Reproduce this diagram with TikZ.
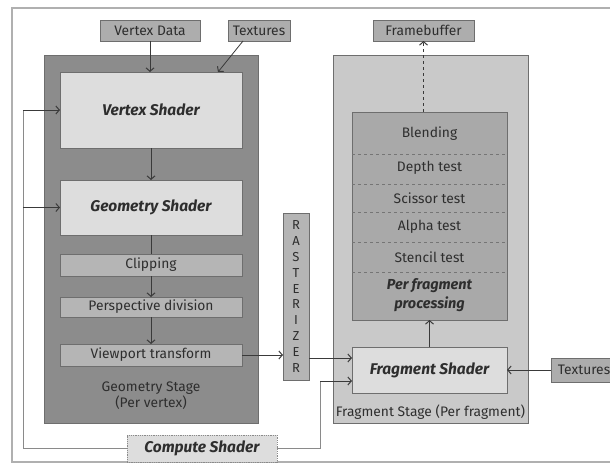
\documentclass[tikz,border=0pt]{standalone}
\usepackage{fontspec}
\setmainfont{Fira Sans}
\usetikzlibrary{arrows.meta,calc}
\definecolor{framegray}{HTML}{B0B0B0}
\definecolor{stagedark}{HTML}{8C8C8C}
\definecolor{stagelight}{HTML}{C9C9C9}
\definecolor{shaderfill}{HTML}{DDDDDD}
\definecolor{stepfill}{HTML}{B5B5B5}
\definecolor{tagfill}{HTML}{ADADAD}
\definecolor{procfill}{HTML}{A9A9A9}
\definecolor{edgegray}{HTML}{6E6E6E}
\definecolor{inkgray}{HTML}{2E2E2E}
\definecolor{wiregray}{HTML}{3A3A3A}
\definecolor{feedgray}{HTML}{8A8A8A}
\tikzset{
  boxbase/.style={inner sep=0pt, outer sep=0pt, text=inkgray, align=center},
  tagbox/.style={boxbase, draw=edgegray, fill=tagfill, line width=0.8pt, minimum height=21pt},
  titlefont/.style={font=\fontsize{15.5}{17}\selectfont\bfseries\itshape},
  shaderbox/.style={boxbase, draw=edgegray, fill=shaderfill, line width=0.8pt,
    minimum width=182pt, titlefont},
  stepbox/.style={boxbase, draw=edgegray, fill=stepfill, line width=0.8pt, minimum width=182pt},
  label/.style={boxbase},
  wire/.style={draw=wiregray, line width=0.8pt},
  arr/.style={wire, -{Straight Barb[length=3.5pt,width=8pt,line width=1pt]}},
  feed/.style={draw=feedgray, line width=0.9pt},
  feedarr/.style={feed, -{Straight Barb[length=3.5pt,width=8pt,line width=1pt]}, draw=wiregray},
}
\begin{document}
\begin{tikzpicture}[x=1pt, y=-1pt, font=\fontsize{13.8}{17}\selectfont]
\useasboundingbox (0,0) rectangle (610,468);

% outer frame
\draw[framegray, line width=1.6pt] (12,8) rectangle (640,462);

% geometry stage
\filldraw[fill=stagedark, draw=edgegray, line width=0.8pt] (44,55) rectangle (258,423);
% fragment stage
\filldraw[fill=stagelight, draw=edgegray, line width=0.8pt] (333,55) rectangle (528,423);

% inputs on top
\node[tagbox, minimum width=100pt] (vdata) at (150,30.5) {Vertex Data};
\node[tagbox, minimum width=62pt] (texa) at (259,30.5) {Textures};
\node[tagbox, minimum width=101pt] (fbuf) at (423.5,30.5) {Framebuffer};

% geometry stage contents
\node[shaderbox, minimum height=76pt] (vs) at (151,110) {Vertex Shader};
\node[shaderbox, minimum height=55pt] (gs) at (151,207.5) {Geometry Shader};
\node[stepbox, minimum height=22pt] (clip) at (151,265) {Clipping};
\node[stepbox, minimum height=20pt] (persp) at (151,307) {Perspective division};
\node[stepbox, minimum height=22pt] (view) at (151,355) {Viewport transform};
\node[label] (gstage) at (151,396) {Geometry Stage\\[-1pt](Per vertex)};

% rasterizer
\node[boxbase, draw=edgegray, fill=stepfill, line width=0.8pt, minimum width=26pt,
      minimum height=167pt, font=\fontsize{13}{15.8}\selectfont] (rast) at (296,296.5)
      {R\\A\\S\\T\\E\\R\\I\\Z\\E\\R};

% per fragment processing block
\node[boxbase, draw=edgegray, fill=procfill, line width=0.8pt, minimum width=155pt,
      minimum height=208pt] (pfp) at (429.5,216) {};
\foreach \yy in {154,184,212,242,272}
  \draw[wiregray!70, dashed, line width=0.6pt] (pfp.west |- 0,\yy) -- (pfp.east |- 0,\yy);
\node[label] (blend) at (429.5,134) {Blending};
\node[label] (depth) at (429.5,168) {Depth test};
\node[label] (sciss) at (429.5,198) {Scissor test};
\node[label] (alpha) at (429.5,227) {Alpha test};
\node[label] (stencil) at (429.5,257) {Stencil test};
\node[label, font=\fontsize{14.5}{19}\selectfont\bfseries\itshape] (pfptxt) at (429.5,295)
      {Per fragment\\processing};

% fragment shader
\node[shaderbox, minimum width=155pt, minimum height=46pt] (fs) at (429.5,370) {Fragment Shader};
\node[label] (fstage) at (430.5,412) {Fragment Stage (Per fragment)};

% textures on the right
\node[tagbox, minimum width=66pt, minimum height=24pt] (texb) at (584,370) {Textures};

% compute shader
\node[boxbase, draw=feedgray, densely dotted, fill=shaderfill, line width=0.8pt,
      minimum width=150pt, minimum height=27pt, titlefont] (cs) at (202,448.5) {Compute Shader};

% pipeline connectors
\draw[arr] (vdata.south) -- (vdata.south |- vs.north);
\draw[arr] ($(texa.south)+(-16,0)$) -- ($(vs.north east)+(-24,0)$);
\draw[arr] (vs.south) -- (gs.north);
\draw[wire] (gs.south) -- (clip.north);
\draw[arr] (clip.south) -- (persp.north);
\draw[arr] (persp.south) -- (view.north);
\draw[arr] (view.east) -- (view.east -| rast.west);
\draw[arr] (rast.east |- 0,358) -- (fs.west |- 0,358);
\draw[arr] (fs.north) -- (pfp.south);
\draw[arr, dashed] (fbuf.south |- pfp.north) -- (fbuf.south);
\draw[arr] (texb.west) -- (fs.east);

% compute shader feedback paths
\coordinate (cl) at (23,448.5);
\coordinate (cr) at (320,448.5);
\draw[feed] (cs.west) -- (cl) -- (cl |- vs.west);
\draw[feedarr] (cl |- vs.west) -- (vs.west);
\draw[feedarr] (cl |- gs.west) -- (gs.west);
\draw[feed] (cs.east) -- (cr) -- (cr |- 0,381);
\draw[feedarr] (cr |- 0,381) -- (fs.west |- 0,381);
\end{tikzpicture}
\end{document}
